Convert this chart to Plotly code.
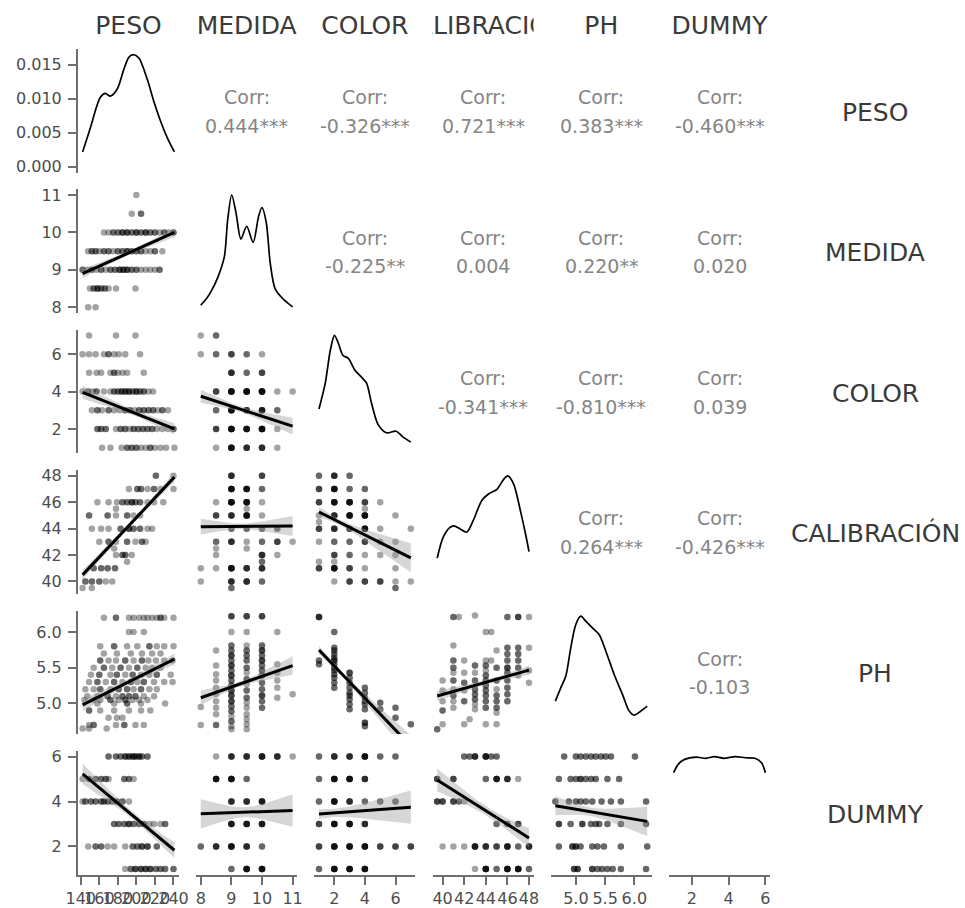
import numpy as np
import plotly.graph_objects as go

FIG_W, FIG_H = 965, 908

VARS = ["PESO", "MEDIDA", "COLOR", "CALIBRACIÓN", "PH", "DUMMY"]

# observed extent of every variable (axis limits add 5% on each side)
peso_span = (142, 241)
medida_span = (8, 11)
color_span = (1, 7)
calib_span = (39.5, 48)
ph_span = (4.65, 6.22)
dummy_span = (1, 6)

peso_ticks = [140, 160, 180, 200, 220, 240]
medida_ticks = [8, 9, 10, 11]
color_ticks = [2, 4, 6]
calib_ticks = [40, 42, 44, 46, 48]
ph_ticks = [5.0, 5.5, 6.0]
dummy_ticks = [2, 4, 6]
density_ticks = [0.000, 0.005, 0.010, 0.015]

# ---- kernel density estimates on the diagonal ----
peso_dens_x = [142, 150.1, 161, 166.5, 171.9, 179.2, 186.4, 191.8, 196.6, 202.7, 211.9, 219.1, 226.4, 233.6, 241]
peso_dens_y = [0.0022, 0.0056, 0.0102, 0.0108, 0.0104, 0.0114, 0.0143, 0.0161, 0.0165, 0.0160, 0.0128, 0.0095, 0.0066, 0.0042, 0.0022]

medida_dens_x = [8.0, 8.2, 8.35, 8.56, 8.77, 8.88, 9.01, 9.15, 9.31, 9.50, 9.71, 9.89, 10.0, 10.14, 10.27, 10.43, 10.69, 11.0]
medida_dens_y = [0.021, 0.09, 0.163, 0.295, 0.494, 0.858, 1.096, 0.924, 0.666, 0.791, 0.633, 0.890, 0.974, 0.825, 0.428, 0.180, 0.081, 0.004]

color_dens_x = [1.0, 1.41, 1.74, 2.01, 2.27, 2.56, 2.92, 3.35, 3.79, 4.11, 4.43, 4.86, 5.40, 6.05, 6.48, 7.0]
color_dens_y = [0.125, 0.208, 0.314, 0.362, 0.336, 0.298, 0.288, 0.250, 0.227, 0.208, 0.144, 0.075, 0.048, 0.053, 0.035, 0.018]

calib_dens_x = [39.5, 40.04, 40.66, 41.04, 41.6, 42.23, 42.84, 43.63, 44.25, 45.03, 45.65, 46.02, 46.58, 47.21, 47.68, 48.0]
calib_dens_y = [0.051, 0.086, 0.103, 0.106, 0.101, 0.095, 0.115, 0.149, 0.160, 0.168, 0.185, 0.191, 0.177, 0.131, 0.092, 0.062]

ph_dens_x = [4.65, 4.742, 4.828, 4.913, 4.999, 5.085, 5.17, 5.283, 5.398, 5.513, 5.655, 5.797, 5.911, 5.997, 6.112, 6.22]
ph_dens_y = [0.319, 0.473, 0.610, 0.939, 1.210, 1.307, 1.249, 1.171, 1.095, 0.900, 0.629, 0.397, 0.203, 0.156, 0.203, 0.260]

dummy_dens_x = [1.0, 1.25, 1.6, 2.23, 2.76, 3.21, 3.74, 4.36, 4.90, 5.43, 5.79, 6.0]
dummy_dens_y = [0.173, 0.188, 0.197, 0.201, 0.199, 0.202, 0.199, 0.202, 0.200, 0.199, 0.191, 0.173]

# ---- correlations in the upper triangle (row-major order) ----
corr_values = [0.444, -0.326, 0.721, 0.383, -0.460,
               -0.225, 0.004, 0.220, 0.020,
               -0.341, -0.810, 0.039,
               0.264, -0.426,
               -0.103]
corr_stars = ["***", "***", "***", "***", "***",
              "**", "", "**", "",
              "***", "***", "",
              "***", "***",
              ""]

# ---- scatter observations: (x, y, number of coinciding observations) ----
medida_peso_pts = [
    (200, 11, 1), (195, 10.5, 1), (205, 10.5, 2),
    (165, 10, 1), (170, 10, 1), (175, 10, 2), (180, 10, 2), (185, 10, 3), (190, 10, 3), (195, 10, 2),
    (200, 10, 3), (205, 10, 2), (210, 10, 3), (215, 10, 2), (220, 10, 2), (225, 10, 1), (230, 10, 2),
    (235, 10, 1), (240, 10, 2),
    (148, 9.5, 1), (152, 9.5, 2), (156, 9.5, 2), (160, 9.5, 1), (165, 9.5, 2), (170, 9.5, 2), (175, 9.5, 1),
    (180, 9.5, 2), (185, 9.5, 2), (190, 9.5, 3), (195, 9.5, 2), (200, 9.5, 2), (205, 9.5, 2), (210, 9.5, 1),
    (215, 9.5, 1), (220, 9.5, 2), (228, 9.5, 1),
    (142, 9, 2), (147, 9, 1), (152, 9, 2), (157, 9, 1), (162, 9, 2), (167, 9, 1), (172, 9, 2), (177, 9, 2),
    (182, 9, 3), (186, 9, 3), (190, 9, 3), (195, 9, 2), (200, 9, 2), (205, 9, 1), (210, 9, 1), (215, 9, 1),
    (220, 9, 1), (225, 9, 2),
    (150, 8.5, 1), (154, 8.5, 2), (158, 8.5, 3), (162, 8.5, 2), (166, 8.5, 2), (170, 8.5, 1), (178, 8.5, 1),
    (199, 8.5, 1),
    (148, 8, 1), (156, 8, 1),
]
medida_peso_fit = (8.9, 10.0, 0.12, 0.05, 0.12)

color_peso_pts = [
    (149, 7, 1), (178, 7, 1), (199, 7, 1),
    (142, 6, 1), (149, 6, 1), (156, 6, 1), (165, 6, 1), (170, 6, 2), (176, 6, 1), (181, 6, 1), (188, 6, 1), (204, 6, 1),
    (149, 5, 1), (157, 5, 1), (162, 5, 1), (172, 5, 1), (176, 5, 2), (180, 5, 1), (185, 5, 1), (190, 5, 1), (208, 5, 1),
    (142, 4, 1), (148, 4, 2), (153, 4, 1), (157, 4, 2), (165, 4, 1), (172, 4, 1), (176, 4, 2), (180, 4, 2), (184, 4, 3),
    (188, 4, 3), (192, 4, 3), (196, 4, 2), (200, 4, 3), (204, 4, 2), (208, 4, 2), (213, 4, 1), (218, 4, 1),
    (152, 3, 1), (158, 3, 2), (163, 3, 1), (170, 3, 2), (176, 3, 1), (182, 3, 1), (188, 3, 2), (193, 3, 2), (198, 3, 1),
    (203, 3, 2), (208, 3, 2), (213, 3, 2), (218, 3, 2), (223, 3, 1), (228, 3, 2), (234, 3, 1),
    (158, 2, 2), (162, 2, 2), (167, 2, 2), (178, 2, 1), (183, 2, 2), (188, 2, 2), (193, 2, 1), (197, 2, 2), (202, 2, 2),
    (207, 2, 2), (212, 2, 2), (217, 2, 2), (222, 2, 1), (228, 2, 1), (234, 2, 1), (240, 2, 2),
    (163, 1, 1), (172, 1, 1), (184, 1, 1), (190, 1, 2), (195, 1, 2), (200, 1, 2), (205, 1, 1), (210, 1, 1), (215, 1, 2),
    (220, 1, 1), (226, 1, 1), (232, 1, 1), (241, 1, 1),
]
color_peso_fit = (3.96, 2.01, 0.35, 0.15, 0.3)

calib_peso_pts = [
    (221, 48, 2), (240, 48, 1),
    (192, 47, 1), (201, 47, 2), (205, 47, 2), (212, 47, 1), (219, 47, 2), (226, 47, 1), (240, 47, 1),
    (158, 46, 1), (170, 46, 1), (179, 46, 1), (185, 46, 2), (190, 46, 2), (195, 46, 3), (199, 46, 2), (204, 46, 2),
    (212, 46, 1), (219, 46, 1), (229, 46, 1),
    (178, 45.5, 1),
    (149, 45, 2), (169, 45, 2), (178, 45, 1), (190, 45, 2), (197, 45, 1), (204, 45, 1),
    (152, 44, 1), (162, 44, 1), (170, 44, 1), (183, 44, 2), (192, 44, 3), (197, 44, 2), (204, 44, 2), (212, 44, 1),
    (217, 44, 1),
    (160, 43, 1), (170, 43, 2), (178, 43, 1), (190, 43, 2), (199, 43, 1), (206, 43, 2), (210, 43, 1),
    (176, 42.5, 1),
    (178, 42, 1), (185, 42, 2), (188, 42, 2), (195, 42, 1),
    (190, 41.5, 1),
    (154, 41, 2), (162, 41, 2), (169, 41, 2), (177, 41, 2),
    (145, 40, 2), (152, 40, 2), (160, 40, 2), (167, 40, 1), (174, 40, 1),
    (142, 39.5, 1), (152, 39.5, 1),
]
calib_peso_fit = (40.5, 47.9, 0.35, 0.15, 0.35)

ph_peso_pts = [
    (165, 6.2, 1), (178, 6.2, 2), (192, 6.2, 1), (197, 6.2, 1), (203, 6.2, 1), (208, 6.2, 1), (212, 6.2, 1),
    (217, 6.2, 1), (222, 6.2, 1), (226, 6.2, 2), (230, 6.2, 1), (240, 6.2, 1),
    (192, 6.0, 1), (197, 6.0, 1), (208, 6.0, 1),
    (161, 5.8, 1), (176, 5.8, 2), (190, 5.8, 1), (201, 5.8, 1), (214, 5.8, 2), (222, 5.8, 1), (230, 5.8, 1), (240, 5.8, 1),
    (165, 5.7, 1), (179, 5.7, 1), (194, 5.7, 1), (206, 5.7, 1), (217, 5.7, 1), (226, 5.7, 1),
    (161, 5.6, 2), (170, 5.6, 1), (178, 5.6, 1), (188, 5.6, 2), (197, 5.6, 1), (206, 5.6, 2), (213, 5.6, 1),
    (221, 5.6, 1), (230, 5.6, 1), (239, 5.6, 1),
    (154, 5.5, 1), (165, 5.5, 2), (174, 5.5, 1), (183, 5.5, 2), (192, 5.5, 1), (201, 5.5, 2), (210, 5.5, 1),
    (217, 5.5, 1), (226, 5.5, 1),
    (151, 5.4, 1), (160, 5.4, 2), (172, 5.4, 1), (179, 5.4, 2), (188, 5.4, 1), (196, 5.4, 2), (205, 5.4, 1),
    (214, 5.4, 1), (222, 5.4, 2), (237, 5.4, 1),
    (149, 5.3, 1), (158, 5.3, 2), (167, 5.3, 1), (176, 5.3, 2), (185, 5.3, 1), (194, 5.3, 2), (201, 5.3, 1),
    (208, 5.3, 2), (219, 5.3, 1), (230, 5.3, 1), (239, 5.3, 1),
    (145, 5.2, 1), (154, 5.2, 1), (161, 5.2, 2), (172, 5.2, 1), (181, 5.2, 2), (190, 5.2, 2), (197, 5.2, 1),
    (205, 5.2, 2), (214, 5.2, 1), (222, 5.2, 1),
    (147, 5.1, 1), (158, 5.1, 1), (169, 5.1, 2), (178, 5.1, 1), (185, 5.1, 2), (192, 5.1, 2), (199, 5.1, 2),
    (208, 5.1, 1), (219, 5.1, 1),
    (144, 5.05, 1), (154, 5.05, 1), (161, 5.05, 1), (172, 5.05, 2), (181, 5.05, 1), (188, 5.05, 2), (196, 5.05, 1),
    (203, 5.05, 1), (212, 5.05, 1),
    (158, 5.0, 1), (176, 5.0, 1), (190, 5.0, 2), (205, 5.0, 1), (231, 5.0, 1),
    (149, 4.9, 2), (161, 4.9, 1), (176, 4.9, 1), (192, 4.9, 1), (205, 4.9, 1), (215, 4.9, 1),
    (170, 4.8, 1), (179, 4.8, 1), (185, 4.8, 1),
    (149, 4.7, 1), (154, 4.7, 2), (178, 4.7, 1), (187, 4.7, 2), (199, 4.7, 1), (208, 4.7, 1),
    (142, 4.65, 1), (149, 4.65, 1), (168, 4.65, 1),
]
ph_peso_fit = (4.98, 5.62, 0.09, 0.04, 0.08)

dummy_peso_pts = [
    (170, 6, 2), (178, 6, 2), (183, 6, 2), (188, 6, 3), (192, 6, 3), (196, 6, 3), (199, 6, 3), (203, 6, 3),
    (206, 6, 2), (212, 6, 2),
    (142, 5, 1), (149, 5, 2), (156, 5, 2), (162, 5, 2), (167, 5, 2), (170, 5, 1), (187, 5, 2), (192, 5, 2), (197, 5, 1),
    (142, 4, 1), (145, 4, 2), (151, 4, 2), (156, 4, 2), (162, 4, 2), (165, 4, 2), (169, 4, 2), (174, 4, 2),
    (179, 4, 2), (185, 4, 2), (192, 4, 1),
    (176, 3, 2), (181, 3, 2), (187, 3, 2), (192, 3, 3), (197, 3, 2), (203, 3, 2), (208, 3, 2), (214, 3, 1),
    (219, 3, 1), (226, 3, 1), (231, 3, 2),
    (148, 2, 1), (156, 2, 2), (162, 2, 2), (169, 2, 1), (176, 2, 1), (188, 2, 1), (196, 2, 2), (201, 2, 2),
    (206, 2, 3), (212, 2, 3), (222, 2, 2),
    (188, 1, 1), (194, 1, 2), (199, 1, 3), (205, 1, 3), (210, 1, 3), (215, 1, 3), (221, 1, 2), (226, 1, 2),
    (231, 1, 2), (240, 1, 2),
]
dummy_peso_fit = (5.23, 1.83, 0.45, 0.15, 0.35)

color_medida_pts = [
    (8, 7, 1), (8.5, 7, 2),
    (8, 6, 1), (8.5, 6, 2), (9, 6, 3), (9.5, 6, 2), (10, 6, 1),
    (9, 5, 4), (9.5, 5, 2), (10, 5, 3),
    (8.5, 4, 3), (9, 4, 7), (9.5, 4, 7), (10, 4, 7), (10.5, 4, 1), (11, 4, 1),
    (8.5, 3, 2), (9, 3, 6), (9.5, 3, 4), (10, 3, 5), (10.5, 3, 2),
    (8.5, 2, 3), (9, 2, 7), (9.5, 2, 6), (10, 2, 7), (10.5, 2, 1),
    (8.5, 1, 1), (9, 1, 6), (9.5, 1, 4), (10, 1, 4), (10.5, 1, 1),
]
color_medida_fit = (3.75, 2.15, 0.35, 0.15, 0.45)

calib_medida_pts = [
    (8, 41, 1), (8, 40, 1),
    (8.5, 46, 1), (8.5, 45, 3), (8.5, 43, 2), (8.5, 42.5, 1), (8.5, 42, 1), (8.5, 41, 1),
    (9, 48, 4), (9, 47, 6), (9, 46, 7), (9, 45, 4), (9, 44, 2), (9, 43, 4), (9, 41, 6), (9, 40, 4), (9, 39.5, 2),
    (9.5, 47, 6), (9.5, 46, 6), (9.5, 45.5, 1), (9.5, 45, 6), (9.5, 44, 2), (9.5, 43, 1), (9.5, 42.5, 1),
    (9.5, 41, 4), (9.5, 40, 4),
    (10, 48, 3), (10, 47, 2), (10, 46, 1), (10, 45, 1), (10, 44, 2), (10, 43, 2), (10, 42, 4), (10, 41.5, 2),
    (10, 41, 4), (10, 40, 2),
    (10.5, 44, 2), (10.5, 43, 3), (10.5, 42, 1),
    (11, 43, 1),
]
calib_medida_fit = (44.15, 44.2, 0.6, 0.2, 0.75)

ph_medida_pts = [
    (8, 4.95, 1), (8, 4.7, 1),
    (8.5, 5.74, 1), (8.5, 5.53, 1), (8.5, 5.41, 1), (8.5, 5.32, 1), (8.5, 5.22, 1), (8.5, 5.13, 1), (8.5, 5.03, 1),
    (8.5, 4.94, 1), (8.5, 4.85, 1), (8.5, 4.7, 2),
    (9, 6.22, 3), (9, 6.0, 1), (9, 5.81, 2), (9, 5.74, 2), (9, 5.67, 3), (9, 5.6, 2), (9, 5.53, 3), (9, 5.46, 2),
    (9, 5.39, 3), (9, 5.32, 2), (9, 5.25, 2), (9, 5.18, 3), (9, 5.11, 3), (9, 5.03, 3), (9, 4.96, 2), (9, 4.89, 2),
    (9, 4.82, 1), (9, 4.75, 2), (9, 4.68, 1), (9, 4.64, 1),
    (9.5, 6.22, 3), (9.5, 6.0, 1), (9.5, 5.81, 1), (9.5, 5.74, 2), (9.5, 5.67, 2), (9.5, 5.6, 2), (9.5, 5.5, 2),
    (9.5, 5.43, 1), (9.5, 5.34, 2), (9.5, 5.27, 1), (9.5, 5.18, 2), (9.5, 5.08, 2), (9.5, 5.01, 1), (9.5, 4.94, 1),
    (9.5, 4.85, 1), (9.5, 4.78, 1), (9.5, 4.71, 1), (9.5, 4.64, 1),
    (10, 6.22, 3), (10, 5.81, 2), (10, 5.74, 3), (10, 5.67, 2), (10, 5.6, 3), (10, 5.53, 2), (10, 5.46, 2),
    (10, 5.39, 2), (10, 5.29, 2), (10, 5.2, 2), (10, 5.11, 3), (10, 5.03, 2), (10, 4.94, 2),
    (10.5, 6.0, 1), (10.5, 5.55, 1), (10.5, 5.43, 1), (10.5, 5.32, 1), (10.5, 5.22, 1), (10.5, 5.08, 1),
    (11, 5.13, 1),
]
ph_medida_fit = (5.08, 5.53, 0.1, 0.03, 0.13)

dummy_medida_pts = [
    (8.5, 6, 1), (9, 6, 4), (9.5, 6, 4), (10, 6, 5), (10.5, 6, 4), (11, 6, 1),
    (8.5, 5, 6), (9, 5, 6), (9.5, 5, 2),
    (9, 4, 4), (9.5, 4, 4), (10, 4, 5),
    (9, 3, 5), (9.5, 3, 5), (10, 3, 5),
    (8, 2, 2), (8.5, 2, 4), (9, 2, 6), (9.5, 2, 4), (10, 2, 2),
    (9, 1, 2), (9.5, 1, 6), (10, 1, 6),
]
dummy_medida_fit = (3.45, 3.60, 0.65, 0.22, 0.72)

calib_color_pts = [
    (1, 48, 2), (2, 48, 4), (3, 48, 2),
    (1, 47, 3), (2, 47, 6), (3, 47, 2), (4, 47, 2),
    (1, 46, 3), (2, 46, 6), (3, 46, 6), (4, 46, 3), (5, 46, 1),
    (4, 45.5, 1),
    (1, 45, 1), (2, 45, 4), (3, 45, 6), (4, 45, 6), (6, 45, 1),
    (1, 44.5, 1),
    (1, 44, 3), (2, 44, 4), (3, 44, 3), (4, 44, 6), (5, 44, 1), (7, 44, 1),
    (1, 43, 1), (2, 43, 2), (3, 43, 2), (4, 43, 3), (5, 43, 1), (6, 43, 1),
    (2, 42, 3), (3, 42, 2), (4, 42, 1), (5, 42, 1), (6, 42, 1),
    (1, 41.5, 1), (2, 41.5, 1),
    (1, 41, 3), (2, 41, 6), (3, 41, 3), (4, 41, 1), (6, 41, 1),
    (2, 40, 1), (3, 40, 3), (4, 40, 3), (5, 40, 3), (6, 40, 1), (7, 40, 1),
    (6, 39.5, 2),
]
calib_color_fit = (45.26, 41.79, 0.38, 0.2, 1.1)

ph_color_pts = [
    (1, 6.21, 4), (1, 5.6, 2), (1, 5.55, 2),
    (2, 6.0, 2), (2, 5.78, 2), (2, 5.74, 2), (2, 5.69, 2), (2, 5.64, 2), (2, 5.6, 3), (2, 5.55, 2), (2, 5.5, 2),
    (2, 5.46, 2), (2, 5.41, 2), (2, 5.36, 2), (2, 5.29, 2), (2, 5.22, 2),
    (3, 5.43, 3), (3, 5.36, 2), (3, 5.29, 2), (3, 5.22, 2), (3, 5.15, 2), (3, 5.11, 2), (3, 5.06, 2), (3, 4.99, 2),
    (3, 4.92, 2),
    (4, 5.22, 2), (4, 5.15, 2), (4, 5.08, 2), (4, 5.03, 2), (4, 4.99, 2), (4, 4.92, 2), (4, 4.73, 3), (4, 4.68, 2),
    (5, 5.01, 2), (5, 4.92, 2),
    (6, 4.94, 2), (6, 4.8, 2),
    (7, 4.71, 2),
]
ph_color_fit = (5.747, 4.405, 0.06, 0.03, 0.15)

dummy_color_pts = [
    (1, 6, 2), (2, 6, 4), (3, 6, 4), (4, 6, 6), (5, 6, 2), (6, 6, 2),
    (1, 5, 2), (2, 5, 6), (3, 5, 6), (4, 5, 4),
    (1, 4, 2), (2, 4, 6), (3, 4, 4), (4, 4, 2), (5, 4, 2), (6, 4, 2),
    (1, 3, 3), (2, 3, 6), (3, 3, 6), (4, 3, 4),
    (1, 2, 3), (2, 2, 6), (3, 2, 6), (4, 2, 6), (5, 2, 3), (6, 2, 3), (7, 2, 3),
    (1, 1, 2), (2, 1, 6), (3, 1, 6), (4, 1, 6),
]
dummy_color_fit = (3.44, 3.75, 0.22, 0.18, 0.74)

ph_calib_pts = [
    (39.5, 4.64, 2), (40, 4.71, 1),
    (40, 5.32, 1), (40, 5.18, 1), (40, 5.03, 1), (40, 4.90, 2),
    (41, 6.21, 2), (41, 5.81, 1), (41, 5.6, 2), (41, 5.5, 2), (41, 5.43, 1), (41, 5.32, 2), (41, 5.2, 1),
    (41, 5.11, 2), (41, 5.03, 1), (41, 4.94, 1),
    (41.5, 6.21, 1),
    (42, 5.6, 1), (42, 5.43, 1), (42, 5.29, 2), (42, 5.18, 1), (42, 5.03, 2), (42, 4.71, 1),
    (42.5, 4.78, 1),
    (43, 6.23, 1), (43, 5.53, 2), (43, 5.43, 1), (43, 5.32, 2), (43, 5.2, 2), (43, 5.13, 2), (43, 5.06, 2),
    (43, 4.99, 1), (43, 4.92, 1),
    (44, 6.0, 1), (44, 5.6, 1), (44, 5.53, 2), (44, 5.46, 1), (44, 5.39, 2), (44, 5.32, 2), (44, 5.25, 2),
    (44, 5.18, 2), (44, 5.11, 2), (44, 5.03, 2), (44, 4.94, 2), (44, 4.71, 1),
    (44.5, 6.0, 1), (44.5, 5.6, 1),
    (45, 5.74, 1), (45, 5.5, 2), (45, 5.32, 2), (45, 5.2, 1), (45, 5.11, 2), (45, 5.03, 2), (45, 4.94, 2),
    (45, 4.87, 1), (45, 4.71, 1),
    (46, 6.21, 2), (46, 5.78, 2), (46, 5.69, 2), (46, 5.6, 2), (46, 5.5, 3), (46, 5.43, 2), (46, 5.32, 2),
    (46, 5.22, 2), (46, 5.13, 2), (46, 5.03, 2),
    (47, 6.21, 3), (47, 5.78, 2), (47, 5.69, 2), (47, 5.6, 2), (47, 5.5, 2), (47, 5.39, 1),
    (48, 6.21, 1), (48, 5.78, 1), (48, 5.46, 1), (48, 5.29, 1),
]
ph_calib_fit = (5.105, 5.466, 0.07, 0.03, 0.06)

dummy_calib_pts = [
    (42, 6, 2), (42.5, 6, 2), (43, 6, 4), (44, 6, 5), (44.5, 6, 2), (45, 6, 2),
    (39.5, 5, 3), (41, 5, 3), (44, 5, 2), (45, 5, 5), (46, 5, 4), (47, 5, 1),
    (39.5, 4, 3), (40, 4, 3), (41, 4, 3), (41.5, 4, 2), (42, 4, 1),
    (45, 3, 2), (46, 3, 2), (47, 3, 3),
    (40, 2, 1), (41, 2, 1), (42, 2, 1), (43, 2, 5), (44, 2, 4), (45, 2, 3), (46, 2, 5), (47, 2, 2), (48, 2, 4),
    (43, 1, 1), (44, 1, 6), (45, 1, 2), (46, 1, 6), (47, 1, 6), (48, 1, 2),
]
dummy_calib_fit = (4.96, 2.38, 0.5, 0.2, 0.42)

dummy_ph_pts = [
    (4.80, 6, 2), (5.0, 6, 2), (5.08, 6, 2), (5.17, 6, 2), (5.26, 6, 2), (5.34, 6, 2), (5.43, 6, 2), (5.51, 6, 2),
    (5.6, 6, 2), (6.01, 6, 2),
    (4.71, 5, 2), (4.91, 5, 2), (5.0, 5, 2), (5.08, 5, 3), (5.17, 5, 2), (5.26, 5, 2), (5.34, 5, 2), (5.54, 5, 2),
    (5.74, 5, 2),
    (4.65, 4, 2), (4.88, 4, 2), (5.0, 4, 2), (5.08, 4, 2), (5.17, 4, 2), (5.28, 4, 2), (5.44, 4, 2), (5.6, 4, 2),
    (5.77, 4, 2), (6.2, 4, 2),
    (4.71, 3, 3), (4.91, 3, 2), (5.11, 3, 3), (5.26, 3, 2), (5.34, 3, 2), (5.40, 3, 2), (5.54, 3, 2), (5.77, 3, 2),
    (6.2, 3, 2),
    (4.71, 2, 2), (4.94, 2, 3), (5.0, 2, 3), (5.08, 2, 2), (5.28, 2, 2), (5.37, 2, 2), (5.48, 2, 2), (5.77, 2, 2),
    (6.22, 2, 2),
    (4.97, 1, 3), (5.03, 1, 3), (5.28, 1, 3), (5.37, 1, 2), (5.45, 1, 2), (5.54, 1, 2), (5.63, 1, 2), (5.77, 1, 2),
    (6.2, 1, 2),
]
dummy_ph_fit = (3.81, 3.115, 0.42, 0.18, 0.65)

# ---------------------------------------------------------------------------
spans = [peso_span, medida_span, color_span, calib_span, ph_span, dummy_span]
tick_sets = [peso_ticks, medida_ticks, color_ticks, calib_ticks, ph_ticks, dummy_ticks]
tick_fmt = ["{:.0f}", "{:.0f}", "{:.0f}", "{:.0f}", "{:.1f}", "{:.0f}"]
densities = [(peso_dens_x, peso_dens_y), (medida_dens_x, medida_dens_y), (color_dens_x, color_dens_y),
             (calib_dens_x, calib_dens_y), (ph_dens_x, ph_dens_y), (dummy_dens_x, dummy_dens_y)]
lower = {
    (1, 0): (medida_peso_pts, medida_peso_fit),
    (2, 0): (color_peso_pts, color_peso_fit),
    (3, 0): (calib_peso_pts, calib_peso_fit),
    (4, 0): (ph_peso_pts, ph_peso_fit),
    (5, 0): (dummy_peso_pts, dummy_peso_fit),
    (2, 1): (color_medida_pts, color_medida_fit),
    (3, 1): (calib_medida_pts, calib_medida_fit),
    (4, 1): (ph_medida_pts, ph_medida_fit),
    (5, 1): (dummy_medida_pts, dummy_medida_fit),
    (3, 2): (calib_color_pts, calib_color_fit),
    (4, 2): (ph_color_pts, ph_color_fit),
    (5, 2): (dummy_color_pts, dummy_color_fit),
    (4, 3): (ph_calib_pts, ph_calib_fit),
    (5, 3): (dummy_calib_pts, dummy_calib_fit),
    (5, 4): (dummy_ph_pts, dummy_ph_fit),
}

# panel grid geometry (pixels)
COL_LEFT0, COL_PITCH, PANEL_W = 78, 118.2, 101
ROW_TOP0, ROW_PITCH, PANEL_H = 49, 140.4, 123.5
STRIP_TOP, STRIP_BOTTOM = 10, 46
ROWLABEL_X = 875

FONT = "DejaVu Sans"
AXIS_GREY = "#6e6e6e"
TICK_TEXT = "#4d4d4d"
CORR_GREY = "#858585"
STRIP_TEXT = "#3a3a3a"
BAND_FILL = "rgba(153,153,153,0.4)"
POINT_COLOR = "rgba(0,0,0,0.36)"


def expand(span):
    lo, hi = span
    pad = 0.05 * (hi - lo)
    return [lo - pad, hi + pad]


def xdomain(c):
    left = COL_LEFT0 + c * COL_PITCH
    return [left / FIG_W, (left + PANEL_W) / FIG_W]


def ydomain(r):
    top = ROW_TOP0 + r * ROW_PITCH
    return [1 - (top + PANEL_H) / FIG_H, 1 - top / FIG_H]


def ref(prefix, k):
    return prefix if k == 1 else f"{prefix}{k}"


def ci_band(x0, x1, fit, n=60):
    y0, y1, hl, hm, hr = fit
    xs = np.linspace(x0, x1, n)
    ys = y0 + (y1 - y0) * (xs - x0) / (x1 - x0)
    a = np.sqrt(max(hl ** 2 - hm ** 2, 0))
    b = np.sqrt(max(hr ** 2 - hm ** 2, 0))
    xm = x0 + (x1 - x0) * a / (a + b) if a + b > 0 else 0.5 * (x0 + x1)
    if xm > x0:
        kk = a / (xm - x0)
    else:
        kk = b / (x1 - xm)
    hw = np.sqrt(hm ** 2 + (kk * (xs - xm)) ** 2)
    return xs, ys, ys + hw, ys - hw


fig = go.Figure()
layout = dict(
    width=FIG_W, height=FIG_H,
    margin=dict(l=0, r=0, t=0, b=0),
    paper_bgcolor="white", plot_bgcolor="white",
    showlegend=False, template="none",
    font=dict(family=FONT, color=TICK_TEXT),
)
annotations = []
corr_i = 0

for r in range(6):
    for c in range(6):
        k = r * 6 + c + 1
        xa, ya = ref("x", k), ref("y", k)
        xrange_ = expand(spans[c])
        if r == c:
            dy = densities[c][1]
            m = max(dy)
            yrange_ = [-0.05 * m, 1.05 * m]
        else:
            yrange_ = expand(spans[r])

        bottom = r == 5
        left = c == 0
        xaxis = dict(domain=xdomain(c), range=xrange_, anchor=ya, showgrid=False, zeroline=False,
                     showline=bottom, linecolor=AXIS_GREY, linewidth=2,
                     ticks="outside" if bottom else "", ticklen=8, tickwidth=1.5, tickcolor=AXIS_GREY,
                     showticklabels=bottom, tickangle=0,
                     tickfont=dict(family=FONT, size=16, color=TICK_TEXT))
        if bottom:
            xaxis["tickvals"] = tick_sets[c]
            xaxis["ticktext"] = [tick_fmt[c].format(v) for v in tick_sets[c]]
        yaxis = dict(domain=ydomain(r), range=yrange_, anchor=xa, showgrid=False, zeroline=False,
                     showline=left, linecolor=AXIS_GREY, linewidth=2,
                     ticks="outside" if left else "", ticklen=8, tickwidth=1.5, tickcolor=AXIS_GREY,
                     showticklabels=left, ticklabelstandoff=3,
                     tickfont=dict(family=FONT, size=16, color=TICK_TEXT))
        if left:
            if r == 0:
                yaxis["tickvals"] = density_ticks
                yaxis["ticktext"] = ["{:.3f}".format(v) for v in density_ticks]
            else:
                yaxis["tickvals"] = tick_sets[r]
                yaxis["ticktext"] = [tick_fmt[r].format(v) for v in tick_sets[r]]
        layout["xaxis" if k == 1 else f"xaxis{k}"] = xaxis
        layout["yaxis" if k == 1 else f"yaxis{k}"] = yaxis

        if r == c:
            dx, dy = densities[c]
            fig.add_trace(go.Scatter(x=dx, y=dy, mode="lines", xaxis=xa, yaxis=ya,
                                     line=dict(color="black", width=1.7, shape="spline", smoothing=0.8),
                                     hoverinfo="skip"))
        elif r > c:
            pts, fit = lower[(r, c)]
            px, py = [], []
            for x, y, n in pts:
                px += [x] * n
                py += [y] * n
            fig.add_trace(go.Scatter(x=px, y=py, mode="markers", xaxis=xa, yaxis=ya,
                                     marker=dict(size=6.5, color=POINT_COLOR, line=dict(width=0)),
                                     hoverinfo="skip"))
            x0, x1 = spans[c]
            xs, ys, up, lo = ci_band(x0, x1, fit)
            fig.add_trace(go.Scatter(x=np.concatenate([xs, xs[::-1]]), y=np.concatenate([up, lo[::-1]]),
                                     mode="lines", fill="toself", fillcolor=BAND_FILL,
                                     line=dict(width=0), xaxis=xa, yaxis=ya, hoverinfo="skip"))
            fig.add_trace(go.Scatter(x=[xs[0], xs[-1]], y=[ys[0], ys[-1]], mode="lines", xaxis=xa, yaxis=ya,
                                     line=dict(color="black", width=3), hoverinfo="skip"))
        else:
            # empty trace so the correlation panel exists as a subplot
            fig.add_trace(go.Scatter(x=[None], y=[None], mode="markers", xaxis=xa, yaxis=ya, hoverinfo="skip"))
            label = "{:.3f}{}".format(corr_values[corr_i], corr_stars[corr_i])
            corr_i += 1
            for txt, shift in (("Corr:", 13.5), (label, -15)):
                annotations.append(dict(text=txt, xref=f"{xa} domain", yref=f"{ya} domain",
                                        x=0.5, y=0.5, yshift=shift, showarrow=False,
                                        font=dict(family=FONT, size=19, color=CORR_GREY)))

    # row label at the right of the grid
    annotations.append(dict(text=VARS[r], xref="paper", yref=f"{ref('y', r * 6 + 6)} domain",
                            x=ROWLABEL_X / FIG_W, y=0.5, yshift=-1.5, xanchor="center", showarrow=False,
                            font=dict(family=FONT, size=25, color=STRIP_TEXT)))

# column headers live in thin strip subplots so that long names are clipped to the column width
for c in range(6):
    k = 37 + c
    xa, ya = f"x{k}", f"y{k}"
    layout[f"xaxis{k}"] = dict(domain=xdomain(c), range=[0, 1], anchor=ya, visible=False)
    layout[f"yaxis{k}"] = dict(domain=[1 - STRIP_BOTTOM / FIG_H, 1 - STRIP_TOP / FIG_H], range=[0, 1],
                               anchor=xa, visible=False)
    fig.add_trace(go.Scatter(x=[0.5], y=[0.5], mode="text", text=[VARS[c]], xaxis=xa, yaxis=ya,
                             textposition="middle center", cliponaxis=True,
                             textfont=dict(family=FONT, size=25, color=STRIP_TEXT), hoverinfo="skip"))

layout["annotations"] = annotations
fig.update_layout(**layout)
fig.write_html("out.html")
